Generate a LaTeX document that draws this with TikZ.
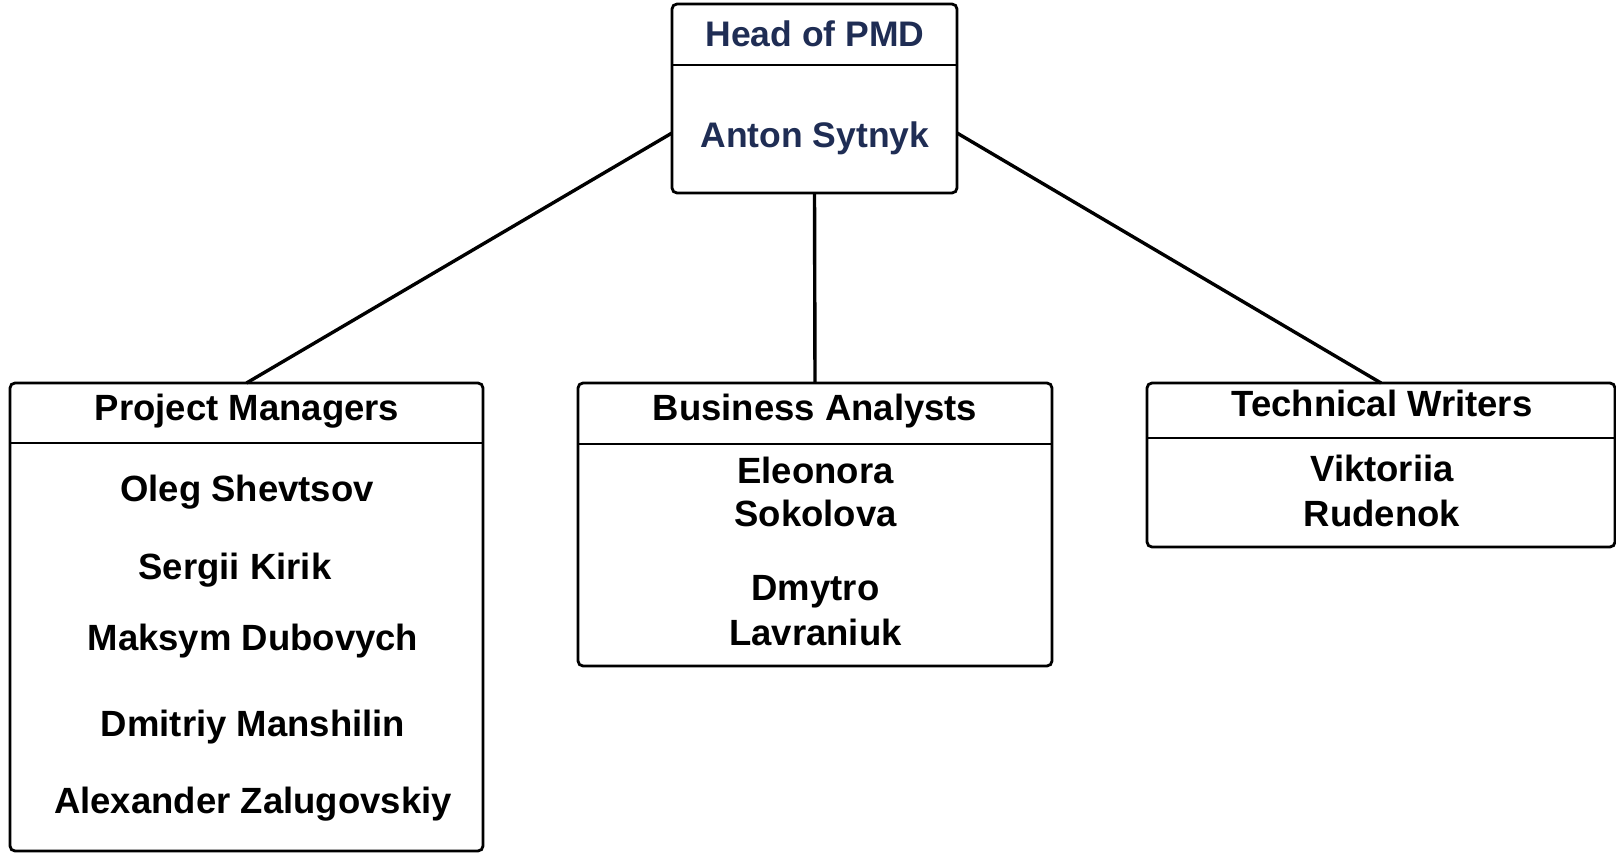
\documentclass[tikz,border=0pt]{standalone}
\usepackage{fontspec}
\setmainfont{Liberation Sans}
\usetikzlibrary{calc}
\definecolor{navy}{HTML}{1F2D54}
\tikzset{
  box/.style={draw=black, line width=2.8pt, rounded corners=5pt, fill=white, inner sep=0pt, outer sep=0pt},
  divider/.style={draw=black, line width=2.8pt},
  link/.style={draw=black, line width=3.4pt},
  title/.style={anchor=base, inner sep=0pt, font=\fontsize{36.5}{40}\selectfont\bfseries},
  person/.style={anchor=base, inner sep=0pt, font=\fontsize{36.5}{40}\selectfont\bfseries},
  headtxt/.style={anchor=base, inner sep=0pt, text=navy, font=\fontsize{35.5}{40}\selectfont\bfseries}
}
\begin{document}
\begin{tikzpicture}[x=1pt,y=-1pt]
\useasboundingbox[fill=white] (0,0) rectangle (1616,853);
% boxes
\node[box, minimum width=285pt, minimum height=189pt] (head) at (814.5,98.5) {};
\node[box, minimum width=473pt, minimum height=468pt] (pm) at (246.5,617) {};
\node[box, minimum width=474pt, minimum height=283pt] (ba) at (815,524.5) {};
\node[box, minimum width=468pt, minimum height=164pt] (tw) at (1381,465) {};
% dividers
\draw[divider] (head.west |- 0,65) -- (head.east |- 0,65);
\draw[divider] (pm.west |- 0,443) -- (pm.east |- 0,443);
\draw[divider] (ba.west |- 0,444) -- (ba.east |- 0,444);
\draw[divider] (tw.west |- 0,438) -- (tw.east |- 0,438);
% connectors
\draw[link] ($(head.north west)!0.6825!(head.south west)$) -- (pm.north);
\draw[link] (head.south) -- (ba.north);
\draw[link] ($(head.north east)!0.6825!(head.south east)$) -- (tw.north);
% head texts
\node[headtxt] (headtitle) at (815,46.7) {Head of PMD};
\node[headtxt] (anton) at (815,148) {Anton Sytnyk};
% project managers
\node[title] (pmtitle) at (247,420.7) {Project Managers};
\node[person] (oleg) at (247,501.7) {Oleg Shevtsov};
\node[person] (sergii) at (235,579) {Sergii Kirik};
\node[person] (maksym) at (253,650) {Maksym Dubovych};
\node[person] (dmitriy) at (253,736.7) {Dmitriy Manshilin};
\node[person] (alexander) at (253,813) {Alexander Zalugovskiy};
% business analysts
\node[title] (batitle) at (815,420.7) {Business Analysts};
\node[person] (eleonora) at (815.5,483) {Eleonora};
\node[person] (sokolova) at (815.5,526.7) {Sokolova};
\node[person] (dmytro) at (815.5,600.7) {Dmytro};
\node[person] (lavraniuk) at (815.5,645) {Lavraniuk};
% technical writers
\node[title] (twtitle) at (1382,416.7) {Technical Writers};
\node[person] (viktoriia) at (1382,481) {Viktoriia};
\node[person] (rudenok) at (1382,526.7) {Rudenok};
\end{tikzpicture}
\end{document}
